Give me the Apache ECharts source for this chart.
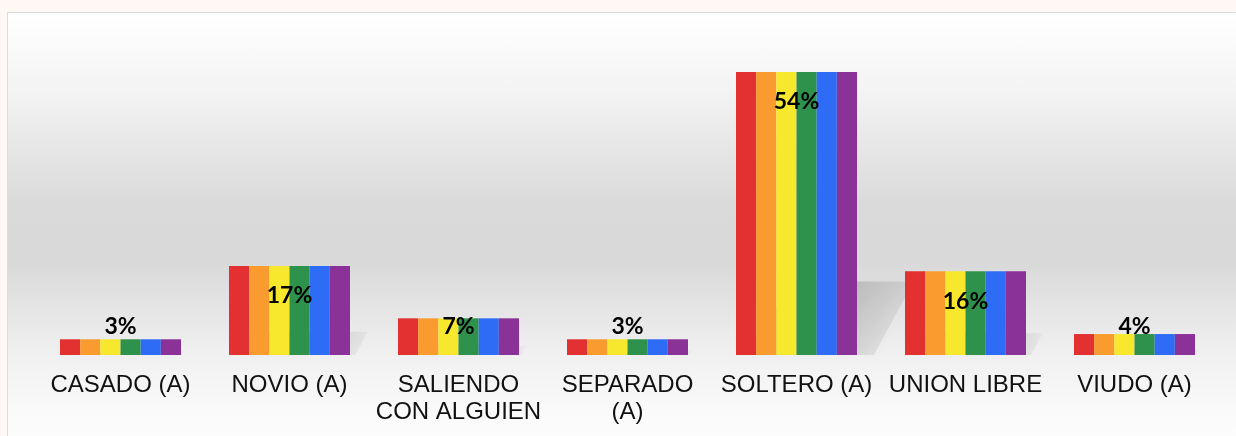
<!DOCTYPE html>
<html>
<head>
<meta charset="utf-8">
<script src="https://cdn.jsdelivr.net/npm/echarts@6/dist/echarts.min.js"></script>
<style>
  html, body { margin:0; padding:0; width:1236px; height:436px; overflow:hidden; background:#fff8f4; }
  #frame {
    position:absolute; left:7px; top:12px; width:1240px; height:430px;
    border:1px solid #dcdcdc;
    background:linear-gradient(to bottom, #ffffff 0px, #f3f3f3 80px, #dadada 190px, #d9d9d9 250px, #f0f0f0 340px, #fafafa 400px, #fdfdfd 430px);
  }
  #chart { position:absolute; left:0; top:0; width:1236px; height:436px; }
</style>
</head>
<body>
<div id="frame"></div>
<div id="chart"></div>
<script>
// categorías y porcentajes
var categories = ['CASADO (A)', 'NOVIO (A)', 'SALIENDO\nCON ALGUIEN', 'SEPARADO\n(A)', 'SOLTERO (A)', 'UNION LIBRE', 'VIUDO (A)'];
var values = [3, 17, 7, 3, 54, 16, 4];
// franjas del arcoíris
var stripeColors = ['#e33030', '#f99b2e', '#f7e82e', '#2e924c', '#2e6cf6', '#8a3298'];

var myChart = echarts.init(document.getElementById('chart'));

var series = [];

// sombra en perspectiva detrás de cada barra
series.push({
  type: 'custom',
  z: 1,
  silent: true,
  data: values.map(function (v, i) { return [i, v]; }),
  renderItem: function (params, api) {
    var base = api.coord([api.value(0), 0]);
    var top = api.coord([api.value(0), api.value(1)]);
    var band = api.size([1, 0])[0];
    var bw = band * 0.716;
    var right = base[0] + bw / 2;
    var left = base[0] - bw / 2;
    var h = base[1] - top[1];
    return {
      type: 'polygon',
      shape: {
        points: [
          [left + 10, base[1]],
          [right + 0.06 * h, base[1]],
          [right + 0.2 * h, base[1] - 0.26 * h],
          [left + 0.2 * h, base[1] - 0.26 * h]
        ]
      },
      style: {
        fill: new echarts.graphic.LinearGradient(0, 0, 1, 1, [
          { offset: 0.55, color: 'rgba(0,0,0,0.14)' },
          { offset: 1, color: 'rgba(0,0,0,0.02)' }
        ]),
        shadowBlur: 14,
        shadowColor: 'rgba(0,0,0,0.12)'
      }
    };
  }
});

stripeColors.forEach(function (c, idx) {
  var s = {
    type: 'bar',
    z: 2,
    data: values,
    barGap: '0%',
    barCategoryGap: '28.4%',
    itemStyle: { color: c },
    silent: true
  };
  if (idx === 2) {
    s.label = {
      show: true,
      formatter: '{c}%',
      fontFamily: 'Lato',
      fontWeight: 'bold',
      fontSize: 23,
      color: '#000'
    };
    // etiqueta centrada entre amarillo y verde, dentro del extremo
    s.labelLayout = function (p) {
      var r = p.rect;
      var top = Math.min(r.y, r.y + r.height);
      var bottom = Math.max(r.y, r.y + r.height);
      return {
        x: r.x + r.width,
        y: Math.min(top + 30, bottom - 28),
        align: 'center',
        verticalAlign: 'middle'
      };
    };
  }
  series.push(s);
});

myChart.setOption({
  backgroundColor: 'transparent',
  animation: false,
  grid: { left: 36, right: 17, top: 40.6, bottom: 81 },
  xAxis: {
    type: 'category',
    data: categories,
    axisLine: { show: false },
    axisTick: { show: false },
    axisLabel: {
      interval: 0,
      margin: 17,
      fontFamily: 'Liberation Sans',
      fontSize: 24,
      lineHeight: 27,
      color: '#111'
    }
  },
  yAxis: {
    type: 'value',
    min: 0,
    max: 60,
    show: false,
    splitLine: { show: false }
  },
  series: series
});
</script>
</body>
</html>
